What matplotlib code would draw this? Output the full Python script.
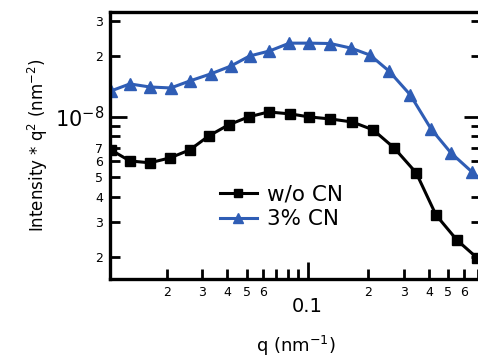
import numpy as np
import matplotlib
matplotlib.use('Agg')
import matplotlib.pyplot as plt

# --- data ---
q_wo = [0.01056, 0.01311, 0.01647, 0.0207, 0.0260, 0.0323, 0.0405, 0.0509, 0.0640,
        0.0822, 0.1021, 0.1297, 0.1666, 0.2117, 0.269, 0.346, 0.434, 0.551, 0.693]
i_wo = [6.85e-9, 6.04e-9, 5.91e-9, 6.25e-9, 6.85e-9, 8.04e-9, 9.13e-9, 1.0e-8, 1.059e-8,
        1.035e-8, 1.0e-8, 9.77e-9, 9.44e-9, 8.62e-9, 7.01e-9, 5.27e-9, 3.25e-9, 2.44e-9, 1.99e-9]

q_cn = [0.01056, 0.01311, 0.01647, 0.02093, 0.0260, 0.0330, 0.0415, 0.0515, 0.0647,
        0.0813, 0.1021, 0.1297, 0.1647, 0.2046, 0.254, 0.323, 0.410, 0.515, 0.654, 0.72]
i_cn = [1.347e-8, 1.46e-8, 1.41e-8, 1.394e-8, 1.51e-8, 1.637e-8, 1.79e-8, 2.01e-8, 2.13e-8,
        2.33e-8, 2.33e-8, 2.32e-8, 2.20e-8, 2.03e-8, 1.69e-8, 1.29e-8, 8.72e-9, 6.62e-9, 5.33e-9, 4.9e-9]

labels = ['w/o CN', '3% CN']

x_minor_lab = [0.02, 0.03, 0.04, 0.05, 0.06, 0.2, 0.3, 0.4, 0.5, 0.6]
x_minor_nolab = [0.07, 0.08, 0.09, 0.7]
y_minor_lab = [2e-9, 3e-9, 4e-9, 5e-9, 6e-9, 7e-9, 2e-8, 3e-8]
y_minor_nolab = [8e-9, 9e-9]

blue = '#2f5db5'


def digit(v):
    return f'{int(round(v / 10 ** np.floor(np.log10(v))))}'


fig = plt.figure(figsize=(4.78, 3.6), dpi=100)
ax = fig.add_axes([110/478, 1 - 279/360, 371/478, 267/360])

ax.plot(q_wo, i_wo, '-s', color='black', lw=2.2, ms=7.5, label=labels[0])
ax.plot(q_cn, i_cn, '-^', color=blue, lw=2.2, ms=8.5, markevery=range(len(q_cn) - 1),
        label=labels[1])

ax.set_xscale('log')
ax.set_yscale('log')
ax.set_xlim(0.01045, 0.726)
ax.set_ylim(1.56e-9, 3.33e-8)

ax.set_xticks([0.1])
ax.set_xticklabels(['0.1'], fontsize=14)
ax.set_xticks(x_minor_lab + x_minor_nolab, minor=True)
ax.set_xticklabels([digit(v) for v in x_minor_lab] + [''] * len(x_minor_nolab),
                   minor=True, fontsize=9)

ax.set_yticks([1e-8])
ax.set_yticklabels(['10$^{-8}$'], fontsize=15)
ax.set_yticks(y_minor_lab + y_minor_nolab, minor=True)
ax.set_yticklabels([digit(v) for v in y_minor_lab] + [''] * len(y_minor_nolab),
                   minor=True, fontsize=9)

ax.tick_params(which='both', direction='in', top=False, right=True, width=2, colors='black')
ax.tick_params(which='major', length=12)
ax.tick_params(which='minor', length=7, pad=5)
ax.tick_params(axis='x', which='major', pad=13)
ax.tick_params(axis='y', which='major', pad=4)
for s in ax.spines.values():
    s.set_linewidth(2.4)

ax.set_xlabel('q (nm$^{-1}$)', fontsize=13, labelpad=13)
ax.set_ylabel('Intensity * q$^{2}$ (nm$^{-2}$)', fontsize=12, labelpad=4)

ax.legend(loc='upper left', bbox_to_anchor=((220 - 110) / 371, (279 - 185) / 267),
          frameon=False, fontsize=15.5, borderpad=0, borderaxespad=0,
          handlelength=1.7, handletextpad=0.5, labelspacing=0.2, markerscale=0.85)

fig.savefig('out.png', dpi=100)
